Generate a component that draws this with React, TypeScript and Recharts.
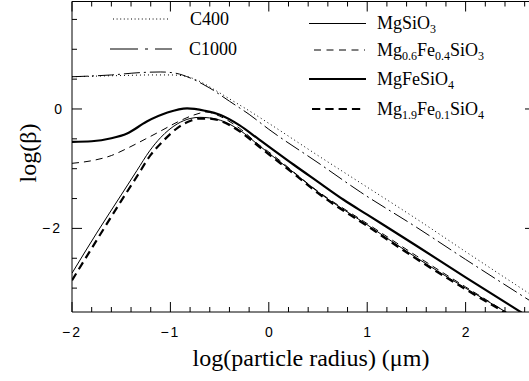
import React from "react";
import { LineChart, Line, XAxis, YAxis } from "recharts";

// ---- data (log particle radius in µm vs log beta) ----
const C400_X = [-2, -1.5, -1.2, -1.0, -0.85, -0.7, -0.55, -0.4, -0.2, 0, 0.5, 1.0, 1.5, 2.0, 2.71];
const C400_Y = [0.54, 0.56, 0.57, 0.57, 0.55, 0.46, 0.32, 0.17, -0.03, -0.24, -0.78, -1.31, -1.84, -2.39, -3.16];

const C1000_X = [-2, -1.6, -1.3, -1.1, -0.95, -0.8, -0.6, -0.4, -0.2, 0, 0.5, 0.93, 1.5, 2.0, 2.71];
const C1000_Y = [0.54, 0.57, 0.61, 0.62, 0.6, 0.52, 0.35, 0.13, -0.09, -0.34, -0.9, -1.39, -1.98, -2.52, -3.27];

const MGFESIO4_X = [-2, -1.8, -1.6, -1.44, -1.24, -1.03, -0.83, -0.65, -0.49, -0.3, -0.1, 0, 0.25, 0.5, 0.76, 1.0, 1.5, 2.0, 2.57];
const MGFESIO4_Y = [-0.55, -0.54, -0.49, -0.41, -0.21, -0.06, 0.01, -0.03, -0.1, -0.27, -0.51, -0.63, -0.93, -1.22, -1.52, -1.77, -2.29, -2.82, -3.41];

const MG06_X = [-2, -1.78, -1.6, -1.44, -1.25, -1.1, -0.93, -0.76, -0.63, -0.5, -0.3, -0.1, 0, 0.5, 1.0, 1.5, 2.0, 2.42];
const MG06_Y = [-0.91, -0.86, -0.78, -0.66, -0.5, -0.37, -0.22, -0.1, -0.05, -0.12, -0.32, -0.6, -0.72, -1.38, -1.92, -2.46, -2.98, -3.41];

const MGSIO3_X = [-2, -1.75, -1.5, -1.34, -1.21, -1.1, -0.93, -0.8, -0.7, -0.6, -0.49, -0.3, -0.1, 0, 0.25, 0.5, 1.0, 1.5, 2.0, 2.42];
const MGSIO3_Y = [-2.75, -2.08, -1.44, -1.03, -0.7, -0.48, -0.25, -0.16, -0.14, -0.15, -0.19, -0.35, -0.61, -0.74, -1.06, -1.39, -1.94, -2.49, -3.0, -3.41];

const MG19_X = [-2, -1.75, -1.5, -1.34, -1.2, -1.07, -0.93, -0.8, -0.7, -0.6, -0.49, -0.3, -0.1, 0, 0.25, 0.5, 1.0, 1.5, 2.0, 2.4];
const MG19_Y = [-2.87, -2.2, -1.54, -1.13, -0.77, -0.53, -0.32, -0.2, -0.16, -0.16, -0.2, -0.37, -0.63, -0.76, -1.08, -1.41, -1.96, -2.51, -3.02, -3.41];

const X_TICKS = [-2, -1.8, -1.6, -1.4, -1.2, -1, -0.8, -0.6, -0.4, -0.2, 0, 0.2, 0.4, 0.6, 0.8, 1, 1.2, 1.4, 1.6, 1.8, 2, 2.2, 2.4, 2.6];
const X_LABELED = [-2, -1, 0, 1, 2];
const Y_TICKS = [-3, -2.5, -2, -1.5, -1, -0.5, 0, 0.5, 1, 1.5];
const Y_LABELED = [-2, 0];

const X_DOMAIN = [-2, 2.705];
const Y_DOMAIN = [-3.4, 1.8];

const pts = (xs: number[], ys: number[]) => xs.map((x, i) => ({ x, y: ys[i] }));

const fmt = (v: number) => (v < 0 ? "\u2212" + Math.abs(v) : String(v));
const isIn = (arr: number[], v: number) => arr.some((a) => Math.abs(a - v) < 1e-6);

const TICK_FONT = "'Liberation Sans', Arial, sans-serif";
const SERIF = "'Liberation Serif', 'Times New Roman', serif";

const BottomTick = (p: any) => {
  const { x, y, payload } = p;
  const v = payload.value;
  const major = isIn(X_LABELED, v);
  return (
    <g>
      <line x1={x} x2={x} y1={y} y2={y - (major ? 10 : 5)} stroke="#000" strokeWidth={1} />
      {major && (
        <text x={x} y={y + 25} textAnchor="middle" fontFamily={TICK_FONT} fontSize={14} fill="#000" letterSpacing={v < 0 ? 2 : 0}>
          {fmt(v)}
        </text>
      )}
    </g>
  );
};

const TopTick = (p: any) => {
  const { x, y, payload } = p;
  const v = payload.value;
  const major = isIn(X_LABELED, v);
  return <line x1={x} x2={x} y1={y} y2={y + (major ? 10 : 5)} stroke="#000" strokeWidth={1} />;
};

const LeftTick = (p: any) => {
  const { x, y, payload } = p;
  const v = payload.value;
  const major = isIn(Y_LABELED, v);
  return (
    <g>
      <line x1={x} x2={x + (major ? 10 : 5)} y1={y} y2={y} stroke="#000" strokeWidth={1} />
      {major && (
        <text x={x - 10} y={y + 5} textAnchor="end" fontFamily={TICK_FONT} fontSize={14} fill="#000" letterSpacing={v < 0 ? 2 : 0}>
          {fmt(v)}
        </text>
      )}
    </g>
  );
};

const RightTick = (p: any) => {
  const { x, y, payload } = p;
  const v = payload.value;
  const major = isIn(Y_LABELED, v);
  return <line x1={x} x2={x - (major ? 10 : 5)} y1={y} y2={y} stroke="#000" strokeWidth={1} />;
};

const STYLE = {
  c400: { w: 1, dash: "1 3" },
  c1000: { w: 1, dash: "16 4 2 4" },
  mgsio3: { w: 1, dash: undefined },
  mg06: { w: 1, dash: "7 5" },
  mgfe: { w: 2.2, dash: undefined },
  mg19: { w: 2.2, dash: "8 5" },
};

const Sub = ({ base, sub }: { base: string; sub: string }) => (
  <>
    <tspan>{base}</tspan>
    <tspan fontSize={12} dy={4}>{sub}</tspan>
    <tspan dy={-4}></tspan>
  </>
);

export default function App() {
  const series = [
    { key: "c400", data: pts(C400_X, C400_Y), s: STYLE.c400 },
    { key: "c1000", data: pts(C1000_X, C1000_Y), s: STYLE.c1000 },
    { key: "mgsio3", data: pts(MGSIO3_X, MGSIO3_Y), s: STYLE.mgsio3 },
    { key: "mg06", data: pts(MG06_X, MG06_Y), s: STYLE.mg06 },
    { key: "mgfe", data: pts(MGFESIO4_X, MGFESIO4_Y), s: STYLE.mgfe },
    { key: "mg19", data: pts(MG19_X, MG19_Y), s: STYLE.mg19 },
  ];
  return (
    <div style={{ position: "absolute", left: 0, top: 0, width: 529, height: 381, overflow: "hidden", background: "#fff" }}>
      <LineChart width={536} height={381} margin={{ top: 0.5, right: 0, bottom: 68, left: 71 }}>
        <XAxis xAxisId="b" dataKey="x" type="number" domain={X_DOMAIN} allowDataOverflow ticks={X_TICKS} interval={0}
          height={1} tickSize={0} tickMargin={0} tickLine={false} axisLine={{ stroke: "#000" }} tick={BottomTick} />
        <XAxis xAxisId="t" orientation="top" dataKey="x" type="number" domain={X_DOMAIN} allowDataOverflow ticks={X_TICKS} interval={0}
          height={1} tickSize={0} tickMargin={0} tickLine={false} axisLine={{ stroke: "#000" }} tick={TopTick} />
        <YAxis yAxisId="l" type="number" domain={Y_DOMAIN} allowDataOverflow ticks={Y_TICKS} interval={0}
          width={1} tickSize={0} tickMargin={0} tickLine={false} axisLine={{ stroke: "#000" }} tick={LeftTick} />
        <YAxis yAxisId="r" orientation="right" type="number" domain={Y_DOMAIN} allowDataOverflow ticks={Y_TICKS} interval={0}
          width={1} tickSize={0} tickMargin={0} tickLine={false} axisLine={{ stroke: "#000" }} tick={RightTick} />
        {series.map((sr) => (
          <Line key={sr.key} xAxisId="b" yAxisId="l" data={sr.data} dataKey="y" type="monotone" stroke="#000"
            strokeWidth={sr.s.w} strokeDasharray={sr.s.dash} dot={false} activeDot={false} isAnimationActive={false} />
        ))}
      </LineChart>
      <svg width={529} height={381} style={{ position: "absolute", left: 0, top: 0, pointerEvents: "none" }}>
        {/* legend left */}
        <line x1={113} x2={169} y1={19} y2={19} stroke="#000" strokeWidth={1} strokeDasharray="1 2.6" />
        <text x={190} y={25} fontFamily={SERIF} fontSize={18}>C400</text>
        <line x1={110} x2={172} y1={49} y2={49} stroke="#000" strokeWidth={1} strokeDasharray="28 7 3 7" />
        <text x={189} y={55} fontFamily={SERIF} fontSize={18}>C1000</text>
        {/* legend right */}
        <line x1={309} x2={366} y1={23.5} y2={23.5} stroke="#000" strokeWidth={1} />
        <text x={377} y={28.5} fontFamily={SERIF} fontSize={18}><Sub base="MgSiO" sub="3" /></text>
        <line x1={314} x2={365} y1={50} y2={50} stroke="#000" strokeWidth={1} strokeDasharray="7 5.5" />
        <text x={377} y={55.5} fontFamily={SERIF} fontSize={18}>
          <tspan>Mg</tspan><tspan fontSize={12} dy={4}>0.6</tspan><tspan dy={-4}>Fe</tspan><tspan fontSize={12} dy={4}>0.4</tspan><tspan dy={-4}>SiO</tspan><tspan fontSize={12} dy={4}>3</tspan>
        </text>
        <line x1={309} x2={366} y1={79} y2={79} stroke="#000" strokeWidth={2.2} />
        <text x={377} y={85} fontFamily={SERIF} fontSize={18}><Sub base="MgFeSiO" sub="4" /></text>
        <line x1={312} x2={362} y1={109} y2={109} stroke="#000" strokeWidth={2.2} strokeDasharray="8.3 5" />
        <text x={377} y={115} fontFamily={SERIF} fontSize={18}>
          <tspan>Mg</tspan><tspan fontSize={12} dy={4}>1.9</tspan><tspan dy={-4}>Fe</tspan><tspan fontSize={12} dy={4}>0.1</tspan><tspan dy={-4}>SiO</tspan><tspan fontSize={12} dy={4}>4</tspan>
        </text>
        {/* axis titles */}
        <text x={311} y={366} textAnchor="middle" fontFamily={SERIF} fontSize={24}>log(particle radius) (μm)</text>
        <text transform="translate(36,153) rotate(-90)" textAnchor="middle" fontFamily={SERIF} fontSize={24}>log(β)</text>
      </svg>
    </div>
  );
}
